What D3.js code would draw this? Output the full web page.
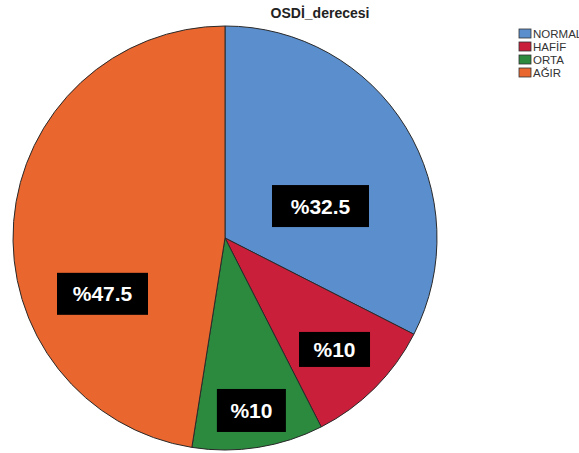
<!DOCTYPE html>
<html lang="tr">
<head>
    <meta charset="utf-8" />
    <title>OSDİ_derecesi</title>
    <script src="https://cdn.jsdelivr.net/npm/d3@7"></script>
    <style>
        body { margin: 0; background: #fff; }
    </style>
</head>
<body>
<div id="chart"></div>
<script>
    // data
    var categories = ['NORMAL', 'HAFİF', 'ORTA', 'AĞIR'];
    var percents = [32.5, 10, 10, 47.5];
    var labels = ['%32.5', '%10', '%10', '%47.5'];
    var colors = ['#5b8ecd', '#c91f3a', '#2b8a3e', '#e9672e'];

    function main() {
        var width = 579, height = 453;
        var cx = 225, cy = 238, r = 212;

        var svg = d3.select('#chart').append('svg')
                .attr('width', width)
                .attr('height', height);

        // title
        svg.append('text')
                .attr('x', 320)
                .attr('y', 18)
                .attr('text-anchor', 'middle')
                .style('font-family', 'Liberation Sans, Arial, sans-serif')
                .style('font-weight', 'bold')
                .style('font-size', '14px')
                .style('fill', '#222')
                .text('OSDİ_derecesi');

        var data = categories.map(function(c, i) {
            return { name: c, value: percents[i], label: labels[i], color: colors[i] };
        });

        var pie = d3.pie().sort(null).value(function(d) { return d.value; });
        var arc = d3.arc().innerRadius(0).outerRadius(r);

        var g = svg.append('g').attr('transform', 'translate(' + cx + ',' + cy + ')');

        var arcs = pie(data);

        g.selectAll('path.slice')
                .data(arcs)
                .enter().append('path')
                .attr('class', 'slice')
                .attr('d', arc)
                .style('fill', function(d) { return d.data.color; })
                .style('stroke', '#2a2a2a')
                .style('stroke-width', 1);

        // label boxes: radius fraction and angle shift (deg) from the slice mid angle
        var labelRadius = [0.475, 0.737, 0.823, 0.635];
        var labelShift = [13, 0.5, 0.3, -29];
        var boxW = [97, 71, 69, 91];
        var boxH = [42, 35, 43, 42];

        var lg = g.selectAll('g.lbl')
                .data(arcs)
                .enter().append('g')
                .attr('class', 'lbl')
                .attr('transform', function(d, i) {
                    var a = (d.startAngle + d.endAngle) / 2 + labelShift[i] * Math.PI / 180;
                    var rr = r * labelRadius[i];
                    return 'translate(' + (Math.sin(a) * rr) + ',' + (-Math.cos(a) * rr) + ')';
                });

        lg.append('rect')
                .attr('x', function(d, i) { return -boxW[i] / 2; })
                .attr('y', function(d, i) { return -boxH[i] / 2; })
                .attr('width', function(d, i) { return boxW[i]; })
                .attr('height', function(d, i) { return boxH[i]; })
                .style('fill', '#000');

        lg.append('text')
                .attr('text-anchor', 'middle')
                .attr('dy', '0.36em')
                .style('font-family', 'Liberation Sans, Arial, sans-serif')
                .style('font-weight', 'bold')
                .style('font-size', '21px')
                .style('fill', '#fff')
                .text(function(d) { return d.data.label; });

        // legend
        var legend = svg.append('g').attr('transform', 'translate(519,29)');
        var item = legend.selectAll('g')
                .data(data)
                .enter().append('g')
                .attr('transform', function(d, i) { return 'translate(0,' + (i * 13) + ')'; });

        item.append('rect')
                .attr('width', 12)
                .attr('height', 9)
                .style('fill', function(d) { return d.color; })
                .style('stroke', '#333')
                .style('stroke-width', 0.8);

        item.append('text')
                .attr('x', 14)
                .attr('y', 9)
                .style('font-family', 'Liberation Sans, Arial, sans-serif')
                .style('font-size', '11.5px')
                .style('fill', '#333')
                .text(function(d) { return d.name; });
    }

    main();
</script>
</body>
</html>
